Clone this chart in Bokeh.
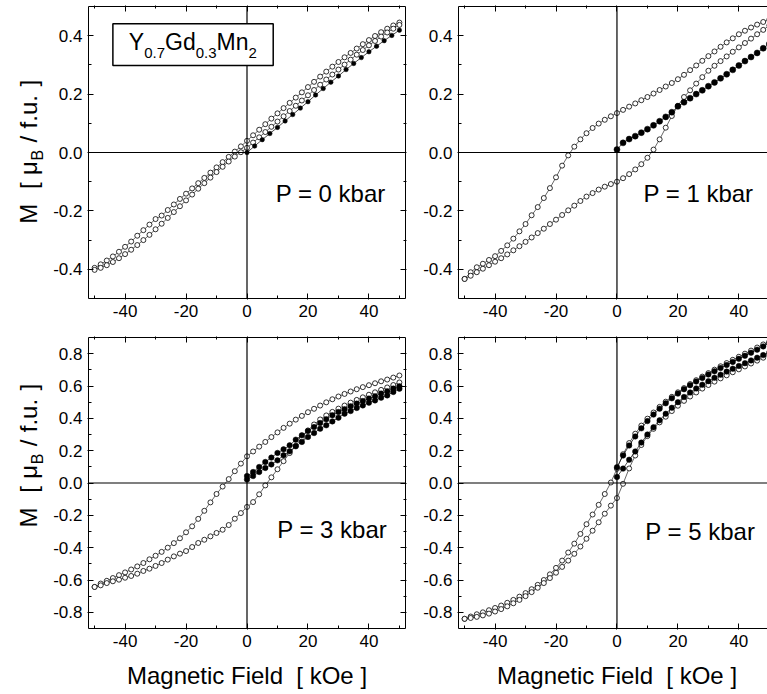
import math
from bokeh.plotting import figure
from bokeh.layouts import column, row
from bokeh.models import (Span, Label, FixedTicker, PrintfTickFormatter, LinearAxis,
                          Range1d, BoxAnnotation)
from bokeh.embed import file_html
from bokeh.resources import INLINE

FONT = "Liberation Sans"

# ---------------- data ----------------
H_DOWN = [50, 48, 46, 44, 42, 40, 38, 36, 34, 32, 30, 28, 26, 24, 22, 20, 18, 16, 14, 12, 10, 8, 6, 4, 2, 0,
          -2, -4, -6, -8, -10, -12, -14, -16, -18, -20, -22, -24, -26, -28, -30, -32, -34, -36, -38, -40,
          -42, -44, -46, -48, -50]
H_UP = [-50, -48, -46, -44, -42, -40, -38, -36, -34, -32, -30, -28, -26, -24, -22, -20, -18, -16, -14, -12,
        -10, -8, -6, -4, -2, 0, 2, 4, 6, 8, 10, 12, 14, 16, 18, 20, 22, 24, 26, 28, 30, 32, 34, 36, 38, 40,
        42, 44, 46, 48, 50]
H_VIRGIN = [0, 2, 4, 6, 8, 10, 12, 14, 16, 18, 20, 22, 24, 26, 28, 30, 32, 34, 36, 38, 40, 42, 44, 46, 48, 50]
H_VIRGIN_P0 = [0, 2.5, 5, 7.5, 10, 12.5, 15, 17.5, 20, 22.5, 25, 27.5, 30, 32.5, 35, 37.5, 40, 42.5, 45, 47.5, 50]

# P = 0 kbar
P0_DOWN = [.445, .435, .424, .412, .399, .385, .371, .356, .341, .326, .310, .294, .277, .260, .242, .224,
           .206, .188, .170, .152, .134, .116, .097, .078, .059, .040,
           .021, .003, -.015, -.033, -.051, -.069, -.087, -.105, -.123, -.141, -.159, -.178, -.197, -.216,
           -.228, -.247, -.266, -.285, -.305, -.323, -.340, -.356, -.370, -.383, -.395]
P0_UP = [-.402, -.395, -.386, -.375, -.362, -.348, -.333, -.317, -.300, -.282, -.263, -.244, -.224, -.204,
         -.184, -.164, -.144, -.124, -.105, -.086, -.067, -.049, -.031, -.014, .001, .016,
         .034, .052, .070, .088, .106, .124, .142, .160, .178, .196, .214, .232, .250, .267, .284, .301,
         .318, .335, .351, .367, .382, .397, .411, .424, .437]
P0_VIRGIN = [.000, .022, .044, .065, .086, .108, .130, .152, .174, .197, .219, .241, .262, .284, .305, .325,
             .345, .364, .383, .401, .419]

# P = 1 kbar
P1_DOWN = [.455, .447, .438, .428, .417, .405, .391, .377, .362, .346, .330, .314, .298, .282, .266, .251,
           .238, .226, .214, .202, .190, .179, .168, .157, .146, .135,
           .124, .112, .099, .084, .066, .045, .020, -.010, -.045, -.085, -.122, -.156, -.187, -.215, -.245,
           -.270, -.295, -.318, -.337, -.355, -.368, -.381, -.393, -.410, -.433]
P1_UP = [-.433, -.422, -.410, -.398, -.386, -.374, -.362, -.349, -.335, -.321, -.306, -.291, -.276, -.261,
         -.245, -.230, -.214, -.198, -.182, -.166, -.151, -.139, -.127, -.117, -.108, -.100,
         -.088, -.074, -.058, -.040, -.018, .010, .045, .085, .125, .160, .190, .213, .236, .258, .280,
         .297, .313, .329, .345, .360, .375, .390, .405, .420, .435]
P1_VIRGIN = [.010, .033, .046, .056, .068, .080, .093, .107, .122, .138, .158, .172, .186, .200, .213, .227,
             .240, .254, .268, .283, .298, .313, .327, .341, .357, .372]

# P = 3 kbar
P3_DOWN = [.665, .652, .640, .629, .617, .605, .593, .580, .566, .551, .535, .518, .499, .479, .459, .438,
           .415, .392, .367, .341, .313, .284, .254, .225, .195, .165,
           .120, .073, .024, -.022, -.068, -.120, -.172, -.222, -.268, -.305, -.342, -.372, -.400, -.426,
           -.450, -.472, -.495, -.516, -.535, -.553, -.570, -.588, -.605, -.622, -.643]
P3_UP = [-.643, -.633, -.619, -.608, -.598, -.586, -.575, -.561, -.544, -.530, -.513, -.495, -.474, -.454,
         -.437, -.421, -.396, -.371, -.351, -.330, -.309, -.289, -.260, -.221, -.186, -.148,
         -.118, -.070, -.015, .035, .085, .135, .185, .230, .280, .325, .362, .393, .418, .440, .460,
         .479, .497, .514, .530, .546, .561, .576, .591, .606, .622]
P3_VIRGIN_A = [.043, .068, .099, .130, .157, .186, .208, .233, .268, .295, .322, .346, .371, .394, .419, .439,
               .456, .474, .491, .507, .522, .536, .553, .567, .584, .598]
P3_VIRGIN_B = [.021, .043, .068, .093, .115, .140, .171, .196, .227, .254, .285, .309, .336, .357, .381, .404,
               .429, .445, .464, .480, .497, .511, .528, .542, .563, .583]

# P = 5 kbar
P5_DOWN = [.875, .857, .838, .819, .800, .781, .762, .742, .722, .701, .680, .658, .636, .612, .587, .561,
           .533, .503, .471, .436, .398, .355, .305, .247, .178, .088,
           .003, -.068, -.135, -.195, -.255, -.315, -.375, -.430, -.480, -.525, -.565, -.600, -.630, -.657,
           -.681, -.703, -.723, -.741, -.758, -.773, -.787, -.800, -.812, -.826, -.840]
P5_UP = [-.840, -.835, -.828, -.819, -.808, -.795, -.780, -.763, -.744, -.723, -.700, -.675, -.648, -.619,
         -.588, -.555, -.519, -.480, -.438, -.393, -.345, -.295, -.243, -.190, -.140, -.093,
         -.005, .090, .170, .235, .290, .335, .375, .410, .445, .478, .508, .535, .560, .584, .606,
         .627, .647, .666, .685, .703, .721, .739, .757, .775, .793]
P5_VIRGIN_A = [.098, .170, .232, .288, .338, .383, .423, .460, .493, .524, .553, .580, .605, .628, .650, .671,
               .691, .711, .730, .749, .768, .787, .806, .825, .845, .865]
P5_VIRGIN_B = [.037, .089, .144, .195, .250, .300, .345, .388, .428, .465, .500, .532, .560, .585, .608, .630,
               .651, .670, .689, .707, .724, .741, .758, .775, .791, .807]

X_TICKS = [-40, -20, 0, 20, 40]
X_MINOR = [-50, -30, -10, 10, 30, 50]
Y_TICKS_TOP = [-0.4, -0.2, 0.0, 0.2, 0.4]
Y_MINOR_TOP = [-0.3, -0.1, 0.1, 0.3]
Y_TICKS_BOT = [-0.8, -0.6, -0.4, -0.2, 0.0, 0.2, 0.4, 0.6, 0.8]
Y_MINOR_BOT = [-0.7, -0.5, -0.3, -0.1, 0.1, 0.3, 0.5, 0.7]

# ---------------- helpers ----------------
ADV = {"M": 833, " ": 278, "[": 278, "]": 278, "μ": 576, "B": 667, "/": 278, "f": 278,
       ".": 278, "u": 556, "Y": 667, "G": 778, "d": 556, "n": 556, "0": 556, "2": 556, "3": 556, "7": 556}
BASE_FIX = 0.44   # measured shift of the rendered alphabetic baseline, in units of font size
STRIP_K, STRIP_OFF = 0.844, 11.1   # measured vertical mapping of the narrow title strips


def tw(s, size):
    return sum(ADV.get(c, 556) for c in s) * size / 1000.0


def style_axis(ax, fmt):
    ax.axis_line_color = "black"
    ax.axis_line_width = 1
    ax.major_tick_line_color = "black"
    ax.minor_tick_line_color = "black"
    ax.major_tick_in = 5
    ax.major_tick_out = 1
    ax.minor_tick_in = 3
    ax.minor_tick_out = 0
    ax.major_label_text_font = FONT
    ax.major_label_text_font_size = "17px"
    ax.major_label_text_color = "black"
    ax.major_label_standoff = 5
    ax.formatter = PrintfTickFormatter(format=fmt)


def tick_only_axes(p, side, major, minor):
    # mirror ticks without labels (ticks passed as "minor" so that no text is drawn)
    a1 = LinearAxis(ticker=FixedTicker(ticks=[], minor_ticks=major))
    a1.axis_line_color = "black"
    a1.axis_line_width = 1
    a1.minor_tick_line_color = "black"
    a1.minor_tick_in = 5
    a1.minor_tick_out = 1
    a1.major_tick_out = 0
    a1.major_label_standoff = 0
    p.add_layout(a1, side)
    a2 = LinearAxis(ticker=FixedTicker(ticks=[], minor_ticks=minor))
    a2.axis_line_color = None
    a2.minor_tick_line_color = "black"
    a2.minor_tick_in = 3
    a2.minor_tick_out = 0
    a2.major_tick_out = 0
    a2.major_label_standoff = 0
    p.add_layout(a2, side)


def make_panel(width, height, x_end, ylim, yt, ym, mbl, mbr, mbt, mbb, right_axis):
    p = figure(width=width, height=height, x_range=Range1d(-52, x_end), y_range=Range1d(-ylim, ylim),
               output_backend="svg", toolbar_location=None,
               min_border_left=mbl, min_border_right=mbr, min_border_top=mbt, min_border_bottom=mbb)
    p.outline_line_color = None
    p.xgrid.visible = False
    p.ygrid.visible = False
    p.background_fill_color = "white"
    p.border_fill_color = "white"
    bx = p.xaxis[0]
    bx.ticker = FixedTicker(ticks=X_TICKS, minor_ticks=X_MINOR)
    style_axis(bx, "%d")
    ly = p.yaxis[0]
    ly.ticker = FixedTicker(ticks=yt, minor_ticks=ym)
    style_axis(ly, "%.1f")
    tick_only_axes(p, "above", X_TICKS, X_MINOR)
    if right_axis:
        tick_only_axes(p, "right", yt, ym)
    p.add_layout(Span(location=0, dimension="height", line_color="black", line_width=1.2))
    p.add_layout(Span(location=0, dimension="width", line_color="black", line_width=1.2))
    return p


def open_branch(p, H, M):
    p.line(H, M, line_color="black", line_width=0.6)
    p.scatter(H, M, marker="circle", size=5, fill_color="white", line_color="black", line_width=0.8)


def filled_branch(p, H, M, size):
    p.line(H, M, line_color="black", line_width=0.7)
    p.scatter(H, M, marker="circle", size=size, fill_color="black", line_color="black", line_width=0.5)


def pressure_label(p, x, y, text):
    F = 24
    p.add_layout(Label(x=x, y=y, y_offset=BASE_FIX * F, text=text, text_font=FONT,
                       text_font_size=f"{F}px", text_color="black", text_align="left",
                       text_baseline="alphabetic"))


def strip(width, height):
    # blank drawing area (1 data unit = 1 px) that holds axis titles
    t = figure(width=width, height=height, x_range=Range1d(0, width), y_range=Range1d(0, height),
               output_backend="svg", toolbar_location=None, x_axis_location=None, y_axis_location=None,
               min_border=0)
    t.outline_line_color = None
    t.grid.visible = False
    t.background_fill_color = "white"
    t.border_fill_color = "white"
    return t


def y_title_strip(height, y_center_from_top):
    t = strip(50, height)
    F, Fs = 24, 16
    seq = [("M", F, 0), (" ", F, 0), (" ", F, 0), ("[", F, 0), (" ", F, 0), ("μ", F, 0), ("B", Fs, 5),
           (" ", F, 0), ("/", F, 0), (" ", F, 0), ("f.u.", F, 0), (" ", F, 0), ("]", F, 0)]
    total = sum(tw(s, f) for s, f, _ in seq)
    d = y_center_from_top + total / 2.0          # wanted start of the text, px from the strip top
    for s, f, dx in seq:
        if s.strip():
            rel = (d - STRIP_OFF) / STRIP_K
            t.add_layout(Label(x=39 + dx - BASE_FIX * f, y=height - rel, text=s, angle=math.pi / 2,
                               text_font=FONT, text_font_size=f"{f}px", text_color="black",
                               text_align="left", text_baseline="alphabetic"))
        d -= tw(s, f)
    return t


# ---------------- panels ----------------
p0 = make_panel(370, 331, 52, 0.5, Y_TICKS_TOP, Y_MINOR_TOP, 38, 15, 6, 33, True)
p1 = make_panel(347, 331, 49.4, 0.5, Y_TICKS_TOP, Y_MINOR_TOP, 38, 0, 6, 33, False)
p3 = make_panel(370, 330, 52, 0.9, Y_TICKS_BOT, Y_MINOR_BOT, 38, 15, 6, 33, True)
p5 = make_panel(347, 330, 49.4, 0.9, Y_TICKS_BOT, Y_MINOR_BOT, 38, 0, 6, 33, False)

open_branch(p0, H_DOWN, P0_DOWN)
open_branch(p0, H_UP, P0_UP)
filled_branch(p0, H_VIRGIN_P0, P0_VIRGIN, 4.5)

open_branch(p1, H_DOWN, P1_DOWN)
open_branch(p1, H_UP, P1_UP)
filled_branch(p1, H_VIRGIN, P1_VIRGIN, 6)

open_branch(p3, H_DOWN, P3_DOWN)
open_branch(p3, H_UP, P3_UP)
filled_branch(p3, H_VIRGIN, P3_VIRGIN_A, 5.5)
filled_branch(p3, H_VIRGIN, P3_VIRGIN_B, 5.5)

open_branch(p5, H_DOWN, P5_DOWN)
open_branch(p5, H_UP, P5_UP)
filled_branch(p5, H_VIRGIN, P5_VIRGIN_B, 5.5)
filled_branch(p5, H_VIRGIN, P5_VIRGIN_A, 5.5)

pressure_label(p0, 9.4, -0.178, "P = 0 kbar")
pressure_label(p1, 8.7, -0.178, "P = 1 kbar")
pressure_label(p3, 9.9, -0.356, "P = 3 kbar")
pressure_label(p5, 9.3, -0.366, "P = 5 kbar")

# composition box
p0.add_layout(BoxAnnotation(left=-44.0, right=8.6, bottom=0.298, top=0.441, fill_color="white",
                            fill_alpha=1.0, line_color="black", line_alpha=1.0, line_width=1.5,
                            level="annotation"))
comp = [("Y", 23, 0), ("0.7", 15, -7), ("Gd", 23, 0), ("0.3", 15, -7), ("Mn", 23, 0), ("2", 15, -7)]
cx = 40.3
for s, f, dy in comp:
    p0.add_layout(Label(x=-52, y=0.343, x_offset=cx, y_offset=dy + BASE_FIX * f, text=s, text_font=FONT,
                        text_font_size=f"{f}px", text_color="black", text_align="left",
                        text_baseline="alphabetic"))
    cx += tw(s, f)

# axis titles
t_top = y_title_strip(331, 150)
t_bot = y_title_strip(330, 455 - 331)
x_strip = strip(767, 33)
for xc in (246.5, 616.5):
    x_strip.add_layout(Label(x=xc, y=8 + BASE_FIX * 24, text="Magnetic Field \u00a0[ kOe ]", text_font=FONT,
                             text_font_size="24px", text_color="black", text_align="center",
                             text_baseline="alphabetic"))

layout = column(row(t_top, p0, p1), row(t_bot, p3, p5), x_strip)
open("out.html", "w").write(file_html(layout, INLINE))
